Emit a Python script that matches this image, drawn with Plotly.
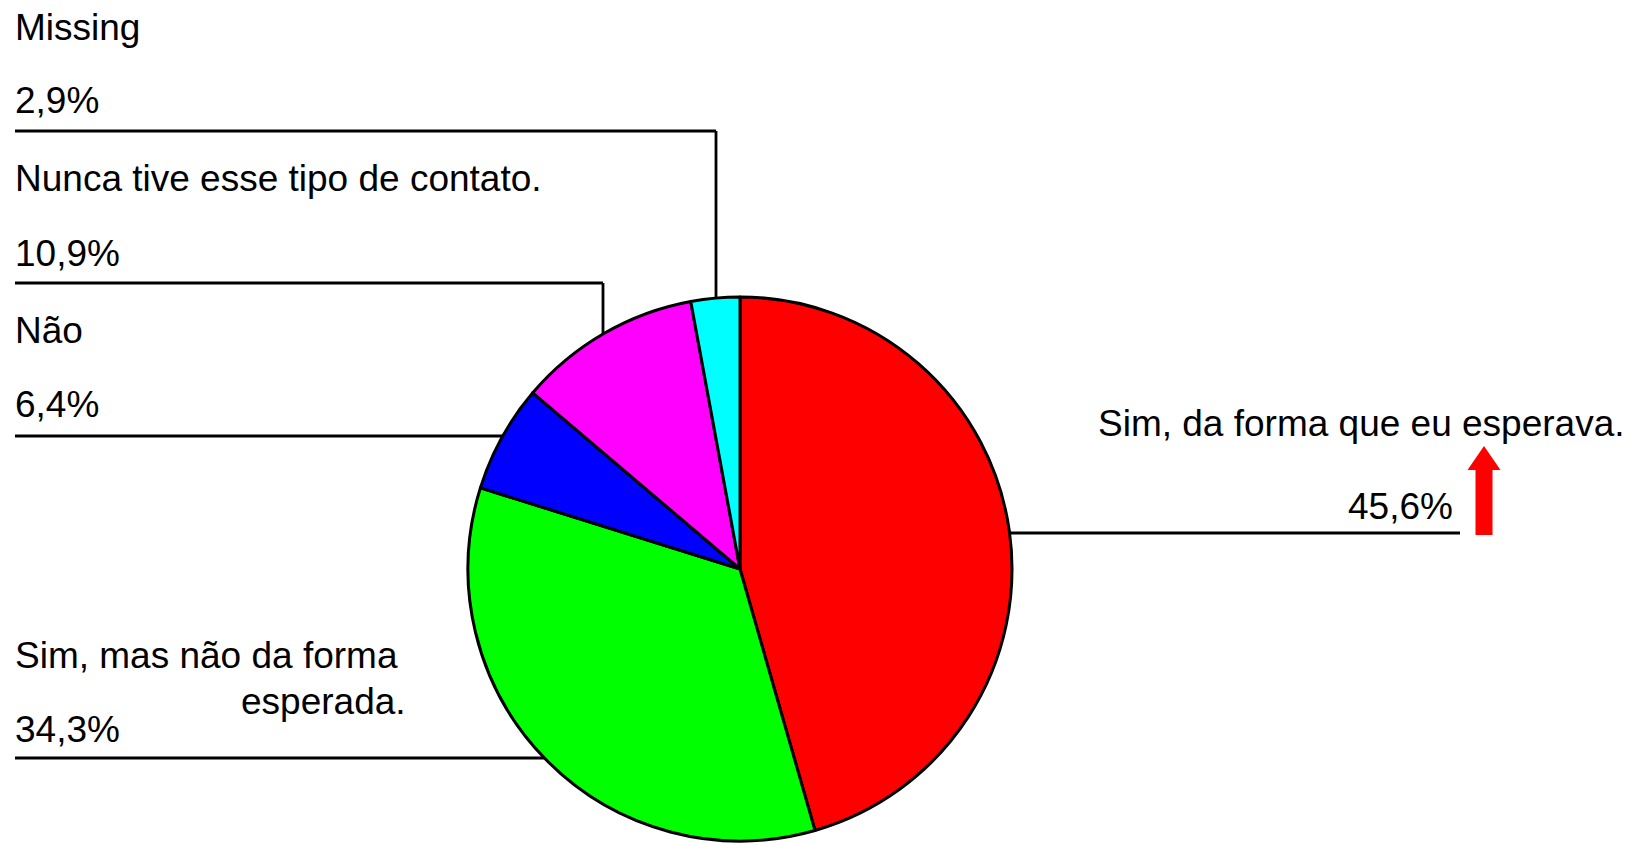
import math
import plotly.graph_objects as go

# ---- data ----
labels = ["Sim, da forma que eu esperava.", "Sim, mas não da forma esperada.", "Não",
          "Nunca tive esse tipo de contato.", "Missing"]
values = [45.6, 34.3, 6.4, 10.9, 2.9]
colors = ["#FF0000", "#00FF00", "#0000FF", "#FF00FF", "#00FFFF"]

W, H = 1639, 843
OFF = 8                      # page body margin
CX, CY, R = 740, 569, 272    # pie centre / radius in screen pixels
FONT = dict(family="Liberation Sans, Arial, sans-serif", size=37, color="black")


def px(x):
    return (x - OFF) / W


def py(y):
    return 1 - (y - OFF) / H


def pct(v):
    return f"{v:.1f}".replace(".", ",") + "%"


def edge_x(y, side):
    dy = y - CY
    return CX + side * math.sqrt(R * R - dy * dy)


def edge_y_top(x):
    dx = x - CX
    return CY - math.sqrt(R * R - dx * dx)


fig = go.Figure(go.Pie(
    labels=labels, values=values, sort=False, direction="clockwise", rotation=0,
    marker=dict(colors=colors, line=dict(color="black", width=3)),
    textinfo="none", hoverinfo="label+percent", showlegend=False,
    domain=dict(x=[px(CX - R), px(CX + R)], y=[py(CY + R), py(CY - R)]),
))

annotations = []
shapes = []


def text(x, y, s, anchor="left"):
    annotations.append(dict(x=px(x), y=py(y), xref="paper", yref="paper", text=s,
                            showarrow=False, xanchor=anchor, yanchor="middle", font=FONT))


def seg(x0, y0, x1, y1):
    shapes.append(dict(type="line", xref="paper", yref="paper", x0=px(x0), y0=py(y0),
                       x1=px(x1), y1=py(y1), line=dict(color="black", width=2.8)))


# Missing
text(13, 27, labels[4])
text(13, 101, pct(values[4]))
seg(15, 131, 716, 131)
seg(716, 131, 716, edge_y_top(716))

# Nunca tive...
text(13, 178, labels[3])
text(13, 253, pct(values[3]))
seg(15, 283, 603, 283)
seg(603, 283, 603, edge_y_top(603))

# Não
text(13, 330, labels[2])
text(13, 405, pct(values[2]))
seg(15, 436, edge_x(436, -1), 436)

# Sim, mas não da forma esperada.
text(13, 655, "Sim, mas não da forma")
text(408, 701, "esperada.", anchor="right")
text(13, 729, pct(values[1]))
seg(15, 758, edge_x(758, -1), 758)

# Sim, da forma que eu esperava.
text(1627, 424, labels[0], anchor="right")
text(1455, 506, pct(values[0]), anchor="right")
seg(edge_x(533, 1), 533, 1460, 533)

# red arrow
ax, tip, base, sw, hw, hh = 1484, 446, 535, 17, 33, 24
path = (f"M {px(ax - sw/2)},{py(base)} L {px(ax - sw/2)},{py(tip + hh)} "
        f"L {px(ax - hw/2)},{py(tip + hh)} L {px(ax)},{py(tip)} "
        f"L {px(ax + hw/2)},{py(tip + hh)} L {px(ax + sw/2)},{py(tip + hh)} "
        f"L {px(ax + sw/2)},{py(base)} Z")
shapes.append(dict(type="path", xref="paper", yref="paper", path=path,
                   fillcolor="#FF0000", line=dict(width=0)))

fig.update_layout(
    width=W, height=H, margin=dict(l=0, r=0, t=0, b=0),
    paper_bgcolor="white", plot_bgcolor="white",
    annotations=annotations, shapes=shapes,
)

fig.write_html("out.html")
